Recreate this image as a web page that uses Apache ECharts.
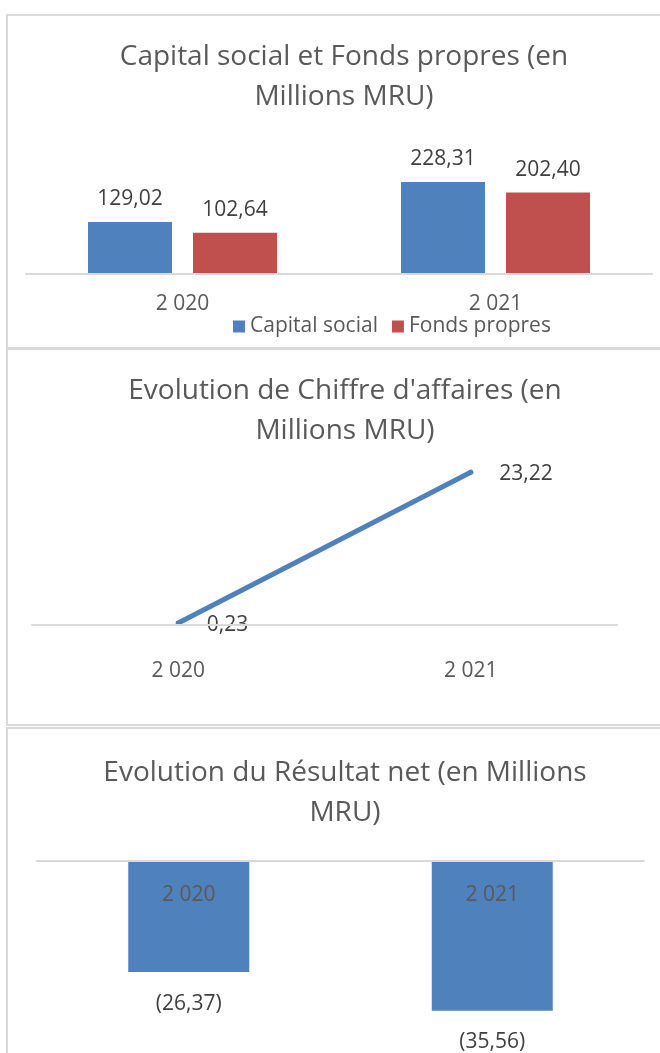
<!DOCTYPE html>
<html>
<head>
<meta charset="utf-8">
<script src="https://cdn.jsdelivr.net/npm/echarts@6/dist/echarts.min.js"></script>
<style>
  html, body { margin: 0; padding: 0; background: #fff; }
  #chart { width: 660px; height: 1053px; }
</style>
</head>
<body>
<div id="chart"></div>
<script>
// data
var years = ['2 020', '2 021'];
var capitalSocial = [129.02, 228.31];
var fondsPropres = [102.64, 202.40];
var chiffreAffaires = [0.23, 23.22];
var resultatNet = [-26.37, -35.56];

var FONT = 'Open Sans';
var BLUE = '#4f81bd';
var RED = '#c0504d';
var GRAY_LINE = '#d9d9d9';

// 129.02 -> "129,02"
function fr(v) {
  return v.toFixed(2).replace('.', ',');
}

var chart = echarts.init(document.getElementById('chart'));

var titleStyle = {
  fontFamily: FONT,
  fontSize: 28,
  fontWeight: 'normal',
  color: '#595959',
  lineHeight: 40
};

var xAxisBase = {
  type: 'category',
  data: years,
  axisTick: { show: false },
  axisLine: { lineStyle: { color: GRAY_LINE, width: 2 } },
  axisLabel: { fontFamily: FONT, fontSize: 21, color: '#595959' },
  z: 10
};

option = {
  animation: false,
  // panel borders
  graphic: [
    { type: 'rect', shape: { x: 7, y: 15, width: 700, height: 333 }, style: { fill: null, stroke: GRAY_LINE, lineWidth: 2 } },
    { type: 'rect', shape: { x: 7, y: 349, width: 700, height: 376 }, style: { fill: null, stroke: GRAY_LINE, lineWidth: 2 } },
    { type: 'rect', shape: { x: 7, y: 728, width: 700, height: 400 }, style: { fill: null, stroke: GRAY_LINE, lineWidth: 2 } }
  ],
  title: [
    { text: 'Capital social et Fonds propres (en\nMillions MRU)', left: 339, top: 32, textAlign: 'center', textStyle: titleStyle },
    { text: "Evolution de Chiffre d'affaires (en\nMillions MRU)", left: 340, top: 366, textAlign: 'center', textStyle: titleStyle },
    { text: 'Evolution du Résultat net (en Millions\nMRU)', left: 340, top: 748, textAlign: 'center', textStyle: titleStyle }
  ],
  legend: {
    left: 228,
    top: 311,
    itemWidth: 12,
    itemHeight: 12,
    itemGap: 14,
    icon: 'rect',
    textStyle: { fontFamily: FONT, fontSize: 21, color: '#595959' },
    data: ['Capital social', 'Fonds propres']
  },
  grid: [
    { left: 26, right: 8, top: 173.25, height: 100.75, outerBoundsMode: 'none' },
    { left: 32, right: 43, top: 460.5, height: 164, outerBoundsMode: 'none' },
    { left: 37, right: 16, top: 861, height: 168.4, outerBoundsMode: 'none' }
  ],
  xAxis: [
    Object.assign({}, xAxisBase, { gridIndex: 0, axisLabel: Object.assign({}, xAxisBase.axisLabel, { margin: 20 }) }),
    Object.assign({}, xAxisBase, { gridIndex: 1, axisLabel: Object.assign({}, xAxisBase.axisLabel, { margin: 36 }) }),
    // axis sits on zero at the top, labels drawn inside the bars
    Object.assign({}, xAxisBase, { gridIndex: 2, position: 'top', axisLabel: Object.assign({}, xAxisBase.axisLabel, { inside: true, margin: 24 }) })
  ],
  yAxis: [
    { type: 'value', gridIndex: 0, min: 0, max: 250, show: false },
    { type: 'value', gridIndex: 1, min: 0, max: 25, show: false },
    { type: 'value', gridIndex: 2, min: -40, max: 0, show: false }
  ],
  series: [
    {
      name: 'Capital social',
      type: 'bar',
      xAxisIndex: 0,
      yAxisIndex: 0,
      barWidth: 84,
      barGap: '25%',
      itemStyle: { color: BLUE },
      label: {
        show: true, position: 'top', distance: 12,
        fontFamily: FONT, fontSize: 21, color: '#404040',
        formatter: function(p) { return fr(p.value); }
      },
      data: capitalSocial
    },
    {
      name: 'Fonds propres',
      type: 'bar',
      xAxisIndex: 0,
      yAxisIndex: 0,
      barWidth: 84,
      barGap: '25%',
      itemStyle: { color: RED },
      label: {
        show: true, position: 'top', distance: 12,
        fontFamily: FONT, fontSize: 21, color: '#404040',
        formatter: function(p) { return fr(p.value); }
      },
      data: fondsPropres
    },
    {
      name: "Chiffre d'affaires",
      type: 'line',
      xAxisIndex: 1,
      yAxisIndex: 1,
      symbol: 'circle',
      symbolSize: 5,
      itemStyle: { color: BLUE },
      lineStyle: { color: BLUE, width: 5, cap: 'round' },
      label: {
        show: true, position: 'right', distance: 26, offset: [0, 2],
        fontFamily: FONT, fontSize: 21, color: '#404040',
        formatter: function(p) { return fr(p.value); }
      },
      data: chiffreAffaires
    },
    {
      name: 'Résultat net',
      type: 'bar',
      xAxisIndex: 2,
      yAxisIndex: 2,
      barWidth: 121,
      itemStyle: { color: BLUE },
      label: {
        show: true, position: 'bottom', distance: 21,
        fontFamily: FONT, fontSize: 21, color: '#404040',
        formatter: function(p) { return '(' + fr(Math.abs(p.value)) + ')'; }
      },
      data: resultatNet
    }
  ]
};

chart.setOption(option);
</script>
</body>
</html>
